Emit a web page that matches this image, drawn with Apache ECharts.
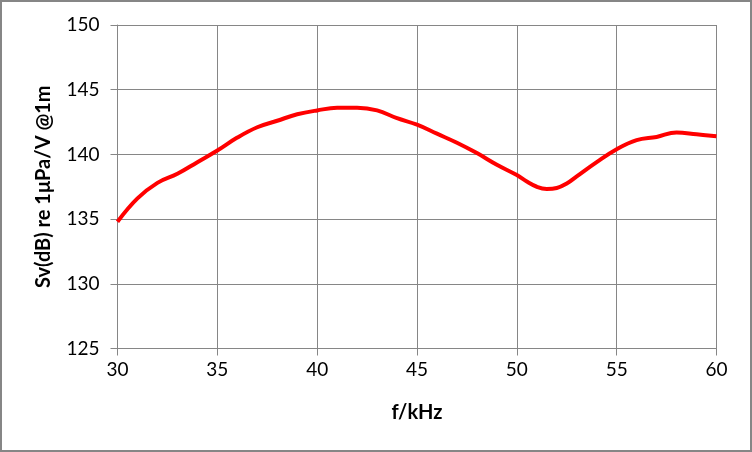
<!DOCTYPE html>
<html>
<head>
<meta charset="utf-8">
<script src="https://cdn.jsdelivr.net/npm/echarts@6/dist/echarts.min.js"></script>
<style>
  html, body { margin: 0; padding: 0; background: #fff; }
  #chart { width: 752px; height: 452px; box-sizing: border-box; border: 2px solid #868686; }
</style>
</head>
<body>
<div id="chart"></div>
<script>
// frequency (kHz) and sensitivity (dB)
var freq = [30, 31, 32, 33, 34, 35, 36, 37, 38, 39, 40, 41, 42, 43, 44, 45,
            46, 47, 48, 49, 50, 50.5, 51, 51.5, 52, 52.5, 53, 54, 55, 56, 57, 58, 59, 60];
var sv = [134.8, 136.6, 137.8, 138.5, 139.4, 140.3, 141.3, 142.1, 142.6, 143.1,
          143.4, 143.6, 143.6, 143.4, 142.8, 142.3, 141.6, 140.9, 140.1, 139.2,
          138.4, 137.9, 137.5, 137.33, 137.4, 137.75, 138.3, 139.4, 140.4, 141.1,
          141.35, 141.7, 141.55, 141.4];

var xName = 'f/kHz';
var yName = 'Sv(dB) re 1μPa/V @1m';

var data = freq.map(function (f, i) { return [f, sv[i]]; });

var chart = echarts.init(document.getElementById('chart'), null, { renderer: 'canvas' });
var font = 'Lato, "Open Sans", sans-serif';

chart.setOption({
  animation: false,
  backgroundColor: '#ffffff',
  grid: { left: 115.5, right: 33.5, top: 23, bottom: 101.5 },
  xAxis: {
    type: 'value',
    min: 30,
    max: 60,
    interval: 5,
    name: xName,
    nameLocation: 'middle',
    nameGap: 54,
    nameTextStyle: { color: '#000', fontSize: 20, fontWeight: 'bold', fontFamily: font },
    axisLine: { onZero: false, lineStyle: { color: '#868686', width: 1 } },
    axisTick: { show: true, length: 7, lineStyle: { color: '#868686' } },
    axisLabel: { color: '#000', fontSize: 19, fontFamily: font, margin: 12 },
    splitLine: { show: true, lineStyle: { color: '#868686', width: 1 } }
  },
  yAxis: {
    type: 'value',
    min: 125,
    max: 150,
    interval: 5,
    name: yName,
    nameLocation: 'middle',
    nameGap: 64,
    nameTextStyle: { color: '#000', fontSize: 20, fontWeight: 'bold', fontFamily: font },
    axisLine: { show: true, lineStyle: { color: '#868686', width: 1 } },
    axisTick: { show: true, length: 7, lineStyle: { color: '#868686' } },
    axisLabel: { color: '#000', fontSize: 19, fontFamily: font, margin: 18 },
    splitLine: { show: true, lineStyle: { color: '#868686', width: 1 } }
  },
  series: [{
    type: 'line',
    data: data,
    smooth: 0.4,
    showSymbol: false,
    lineStyle: { color: '#ff0000', width: 4 }
  }]
});
</script>
</body>
</html>
